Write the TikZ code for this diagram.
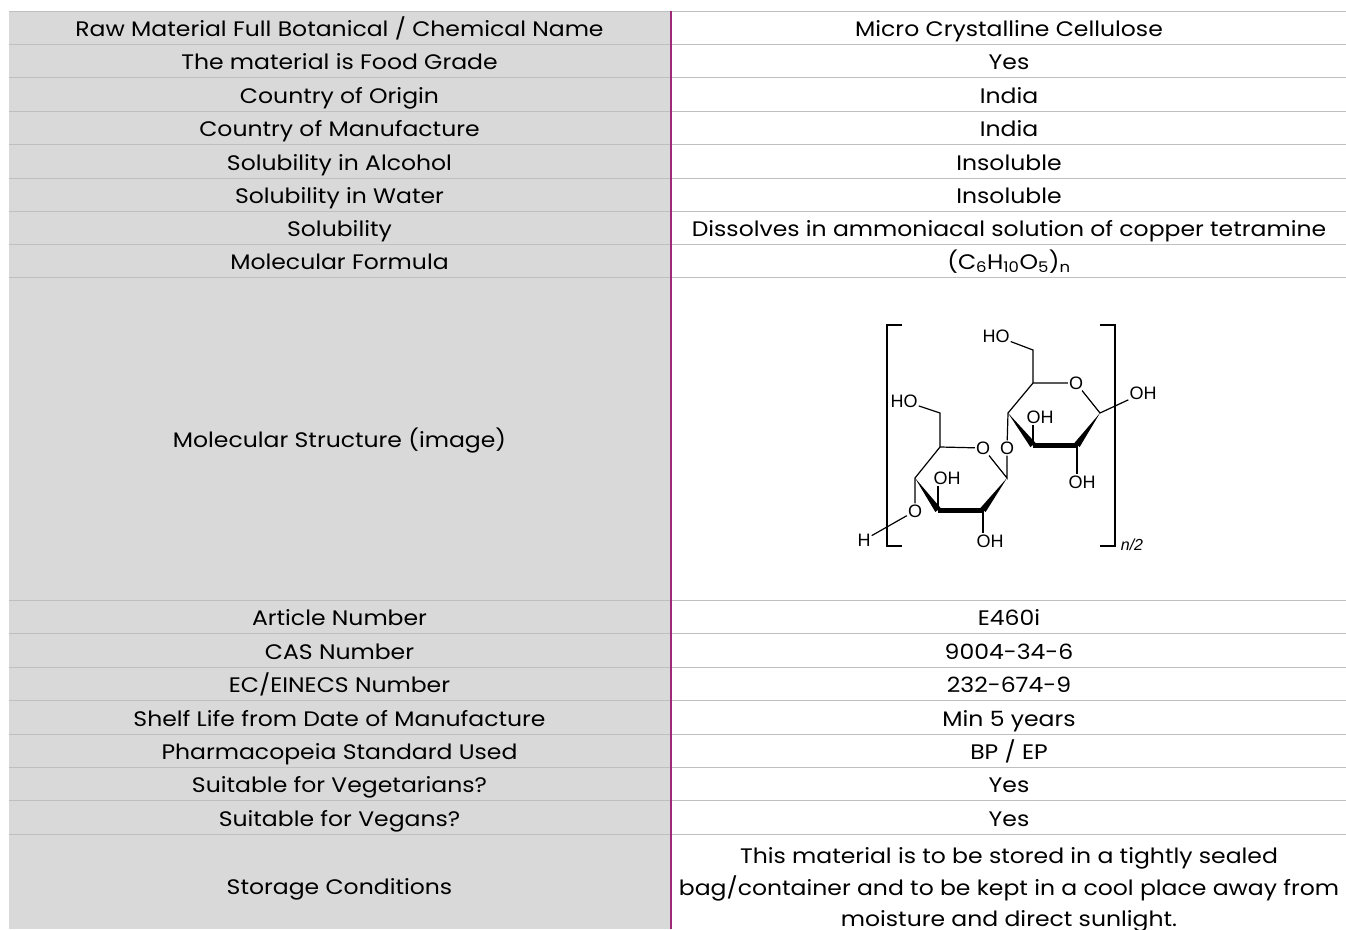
\documentclass[tikz,border=0pt]{standalone}
\usepackage{fontspec}
\setmainfont{Poppins}[FakeStretch=1.12]
\newfontfamily\molfont{Liberation Sans}
\usepackage[rgb]{xcolor}
\usepackage{tikz}
\usetikzlibrary{calc}

\definecolor{cellgray}{RGB}{217,217,217}
\definecolor{rulegray}{RGB}{191,191,191}
\definecolor{plum}{RGB}{160,40,120}

\tikzset{
  lbl/.style={anchor=base, inner sep=0pt, font=\fontsize{21}{31.5}\selectfont},
  atom/.style={inner sep=1pt, font=\molfont\fontsize{18}{20}\selectfont},
  bond/.style={black, line width=1.2pt},
  rowrule/.style={rulegray, line width=1pt}
}

\begin{document}
\begin{tikzpicture}[x=1pt, y=-1pt]
\useasboundingbox (0,0) rectangle (1346,929);

%% table body
\fill[cellgray] (9,11) rectangle (670,929);
\foreach \y in {11,44,77,111,144,178,211,244,277,600,633,667,700,734,767,800,834}
  \draw[rowrule] (9,\y) -- (1346,\y);
\draw[plum, line width=2pt] (671,11) -- (671,929);

%% left column
\path
(339.5,36) node[lbl](kname){Raw Material Full Botanical / Chemical Name}
(339.5,69) node[lbl](kfood){The material is Food Grade}
(339.5,103) node[lbl](korigin){Country of Origin}
(339.5,136) node[lbl](kmanuf){Country of Manufacture}
(339.5,170) node[lbl](kalc){Solubility in Alcohol}
(339.5,203) node[lbl](kwater){Solubility in Water}
(339.5,236) node[lbl](ksol){Solubility}
(339.5,269) node[lbl](kform){Molecular Formula}
(339.5,447) node[lbl](kstruct){Molecular Structure (image)}
(339.5,625) node[lbl](karticle){Article Number}
(339.5,659) node[lbl](kcas){CAS Number}
(339.5,692) node[lbl](kec){EC/EINECS Number}
(339.5,726) node[lbl](kshelf){Shelf Life from Date of Manufacture}
(339.5,759) node[lbl](kpharm){Pharmacopeia Standard Used}
(339.5,792) node[lbl](kveg){Suitable for Vegetarians?}
(339.5,826) node[lbl](kvegan){Suitable for Vegans?}
(339.5,894) node[lbl](kstore){Storage Conditions};

%% right column
\path
(1009,36) node[lbl](vname){Micro Crystalline Cellulose}
(1009,69) node[lbl](vfood){Yes}
(1009,103) node[lbl](vorigin){India}
(1009,136) node[lbl](vmanuf){India}
(1009,170) node[lbl](valc){Insoluble}
(1009,203) node[lbl](vwater){Insoluble}
(1009,236) node[lbl](vsol){Dissolves in ammoniacal solution of copper tetramine}
(1009,269) node[lbl](vform){(C\textsubscript{6}H\textsubscript{10}O\textsubscript{5})\textsubscript{n}}
(1009,625) node[lbl](varticle){E460i}
(1009,659) node[lbl](vcas){9004-34-6}
(1009,692) node[lbl](vec){232-674-9}
(1009,726) node[lbl](vshelf){Min 5 years}
(1009,759) node[lbl](vpharm){BP / EP}
(1009,792) node[lbl](vveg){Yes}
(1009,826) node[lbl](vvegan){Yes}
(1009,890) node[lbl, anchor=center, align=center](vstore){This material is to be stored in a tightly sealed\\
  bag/container and to be kept in a cool place away from\\ moisture and direct sunlight.};

%% cellulose unit: left ring
\path
(940,413) coordinate (a6)
(940,447) coordinate (a5)
(915,478) coordinate (a4)
(938,510) coordinate (a3)
(983,510) coordinate (a2)
(1007,478) coordinate (a1)
(904,401) node[atom](aho){HO}
(983,448) node[atom](ao5){O}
(915,511) node[atom](ao4){O}
(864,540) node[atom](ah){H}
(947,478) node[atom](aoh3){OH}
(990,541) node[atom](aoh2){OH}
(1007,448) node[atom](link){O};

%% right ring
\path
(1033,350) coordinate (b6)
(1033,383) coordinate (b5)
(1008,413) coordinate (b4)
(1033,445) coordinate (b3)
(1077,445) coordinate (b2)
(1100,413) coordinate (b1)
(996,336) node[atom](bho){HO}
(1076,383) node[atom](bo5){O}
(1143,393) node[atom](boh1){OH}
(1040,417) node[atom](boh3){OH}
(1082,482) node[atom](boh2){OH};

\draw[bond] (aho) -- (a6) -- (a5) -- (ao5) -- (a1) -- (link);
\draw[bond] (a5) -- (a4) -- (ao4) -- (ah);
\draw[bond] (a3) -- (aoh3.south -| a3);
\draw[bond] (a2) -- (aoh2.north -| a2);
\draw[bond] (bho) -- (b6) -- (b5) -- (bo5) -- (b1) -- (boh1);
\draw[bond] (b5) -- (b4) -- (link);
\draw[bond] (b3) -- (boh3.south -| b3);
\draw[bond] (b2) -- (boh2.north -| b2);

%% wedges and bold bonds
\foreach \p/\q in {a4/a3, a1/a2, b4/b3, b1/b2}
  \fill ($(\q)!3.3pt!90:(\p)$) -- ($(\q)!3.3pt!-90:(\p)$) -- (\p) -- cycle;
\draw[line width=5pt] (a3) -- (a2);
\draw[line width=5pt] (b3) -- (b2);

%% brackets
\draw[line width=1.1pt] (902,325) -- (887,325) -- (887,546) -- (902,546);
\draw[line width=1.1pt] (1100,325) -- (1115,325) -- (1115,546) -- (1100,546);
\node[atom, font=\molfont\itshape\fontsize{16}{18}\selectfont](rep) at (1132,545) {n/2};

\end{tikzpicture}
\end{document}
